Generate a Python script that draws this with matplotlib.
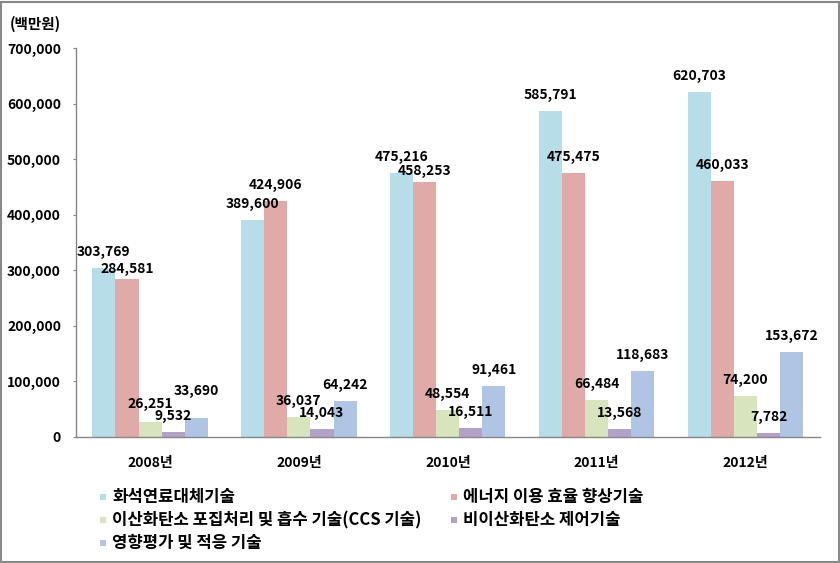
import numpy as np
import matplotlib.pyplot as plt
from matplotlib.patches import Rectangle

plt.rcParams['font.family'] = ['Noto Sans CJK KR', 'DejaVu Sans']

# data (백만원)
years = ['2008년', '2009년', '2010년', '2011년', '2012년']
series_names = ['화석연료대체기술', '에너지 이용 효율 향상기술',
                '이산화탄소 포집처리 및 흡수 기술(CCS 기술)', '비이산화탄소 제어기술',
                '영향평가 및 적응 기술']
fossil = [303769, 389600, 475216, 585791, 620703]
energy = [284581, 424906, 458253, 475475, 460033]
ccs = [26251, 36037, 48554, 66484, 74200]
non_co2 = [9532, 14043, 16511, 13568, 7782]
adapt = [33690, 64242, 91461, 118683, 153672]

colors = ['#B7DDE8', '#E0AAA8', '#D7E4BD', '#B3A2C7', '#B0C5E3']

W, H = 840, 563
fig = plt.figure(figsize=(W / 100, H / 100), dpi=100)
ax = fig.add_axes([75.6 / W, 1 - 437 / H, (820 - 75.6) / W, (437 - 48) / H])

x = np.arange(len(years))
bw = 0.155
all_series = [fossil, energy, ccs, non_co2, adapt]

# label offsets above bar top in px (centre of text); some labels were nudged in the original
label_dy = {(0, 1): 10, (0, 2): 18, (0, 4): 27, (2, 1): 11}

for j, vals in enumerate(all_series):
    pos = x + (j - 2) * bw
    ax.bar(pos, vals, width=bw, color=colors[j], edgecolor='none', label=series_names[j])
    for i, (px, v) in enumerate(zip(pos, vals)):
        dy = label_dy.get((i, j), 16)
        ax.annotate(f'{v:,}', (px, v), xytext=(0, dy * 0.72), textcoords='offset points',
                    ha='center', va='center', fontsize=10, fontweight='bold', color='black')

ax.set_xlim(-0.5, len(years) - 0.5)
ax.set_ylim(0, 700000)
ax.set_yticks(np.arange(0, 700001, 100000))
ax.yaxis.set_major_formatter(plt.FuncFormatter(lambda v, p: f'{int(v):,}'))
ax.set_xticks(x)
ax.set_xticklabels(years)
for lab in ax.get_xticklabels() + ax.get_yticklabels():
    lab.set_fontweight('bold')
    lab.set_fontsize(10)
ax.tick_params(axis='y', length=2, color='#868686', pad=8.5)
ax.tick_params(axis='x', length=0, pad=14)

for s in ['top', 'right']:
    ax.spines[s].set_visible(False)
for s in ['left', 'bottom']:
    ax.spines[s].set_color('#868686')
    ax.spines[s].set_linewidth(1)

fig.text(10 / W, 1 - 24 / H, '(백만원)', fontsize=10.5, fontweight='bold', ha='left', va='center')

# legend laid out like the Excel one: two columns, row-wise order
leg_pos = [(100, 497), (451, 497), (100, 520), (451, 520), (100, 543)]
for j, (lx, ly) in enumerate(leg_pos):
    fig.patches.append(Rectangle((lx / W, 1 - (ly + 3) / H), 6 / W, 6 / H,
                                 transform=fig.transFigure, facecolor=colors[j], edgecolor='none'))
    fig.text((lx + 12) / W, 1 - ly / H, series_names[j], fontsize=12, fontweight='bold',
             ha='left', va='center')

# outer frame
fig.patches.append(Rectangle((1 / W, 1 / H), (W - 2.5) / W, (H - 2.5) / H, transform=fig.transFigure,
                             fill=False, edgecolor='#888888', linewidth=1.5))

fig.savefig('out.png', dpi=100)
